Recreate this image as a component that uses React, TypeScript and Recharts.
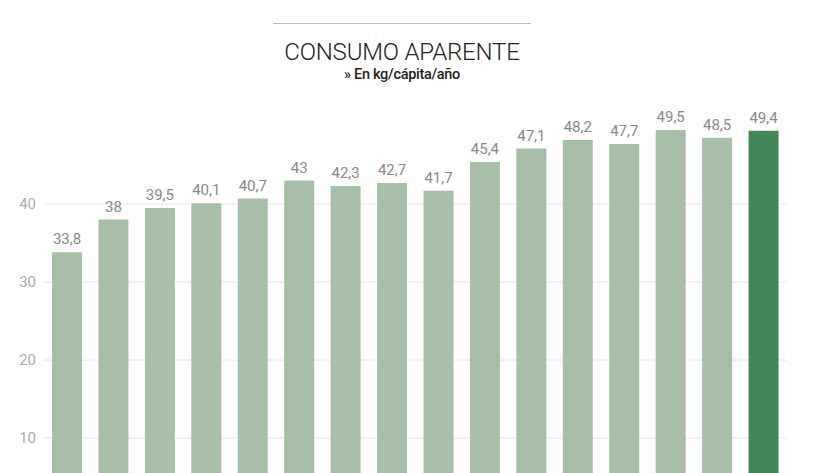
import { BarChart, Bar, XAxis, YAxis, CartesianGrid, Cell, LabelList } from 'recharts'

// Years sit below the visible area in the reference, so the x axis is hidden
const years = ['2007', '2008', '2009', '2010', '2011', '2012', '2013', '2014', '2015', '2016', '2017', '2018', '2019', '2020', '2021', '2022']
const consumo = [33.8, 38, 39.5, 40.1, 40.7, 43, 42.3, 42.7, 41.7, 45.4, 47.1, 48.2, 47.7, 49.5, 48.5, 49.4]
const yTicks = [10, 20, 30, 40]

const COLOR_BAR = '#a9bea8'
const COLOR_LAST = '#448659'
const FONT = 'Roboto, "Liberation Sans", sans-serif'

const data = years.map((year, i) => ({ year, value: consumo[i] }))

const fmt = (v: number) => String(v).replace('.', ',')

export default function App() {
  return (
    <div style={{ position: 'absolute', top: 0, left: 0, width: 840, height: 473, overflow: 'hidden', background: '#fff', fontFamily: FONT }}>
      <div style={{ position: 'absolute', left: 273, top: 23, width: 258, borderTop: '1px solid #bbb' }} />
      <div style={{ position: 'absolute', left: 0, top: 38, width: 804, textAlign: 'center', fontSize: 24, fontWeight: 300, color: '#222', letterSpacing: -0.2 }}>
        CONSUMO APARENTE
      </div>
      <div style={{ position: 'absolute', left: 0, top: 66, width: 804, textAlign: 'center', fontSize: 14.5, fontWeight: 500, color: '#222', letterSpacing: -0.3 }}>
        » En kg/cápita/año
      </div>
      <BarChart
        width={840}
        height={530}
        data={data}
        margin={{ top: 126, right: 53, left: 0, bottom: 14 }}
        style={{ position: 'absolute', top: 0, left: 0 }}
      >
        <CartesianGrid vertical={false} horizontalValues={yTicks} stroke="#e6e6e6" />
        <XAxis dataKey="year" hide />
        <YAxis
          domain={[0, 50]}
          ticks={yTicks}
          width={44}
          axisLine={false}
          tickLine={false}
          tick={{ fontSize: 15, fill: '#aaa', fontFamily: FONT }}
        />
        <Bar dataKey="value" barSize={30} isAnimationActive={false}>
          {data.map((d, i) => (
            <Cell key={d.year} fill={i === data.length - 1 ? COLOR_LAST : COLOR_BAR} />
          ))}
          <LabelList
            dataKey="value"
            position="top"
            offset={8}
            formatter={(v: any) => fmt(Number(v))}
            style={{ fontSize: 15, fill: '#888', fontFamily: FONT }}
          />
        </Bar>
      </BarChart>
    </div>
  )
}
